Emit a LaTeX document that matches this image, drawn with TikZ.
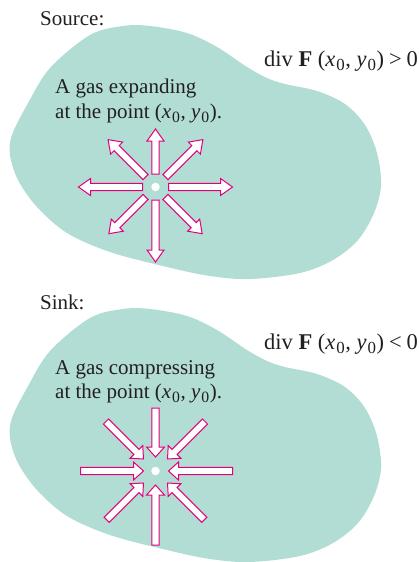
\documentclass[tikz,border=0pt]{standalone}
\usepackage{fontspec}
\setmainfont{Liberation Serif}
\definecolor{blobc}{RGB}{177,221,212}
\definecolor{pinkc}{RGB}{228,0,124}
\definecolor{txtc}{RGB}{35,31,32}
\newcommand\zsub{\kern1pt\raisebox{-0.22em}{\fontsize{0.75em}{0.75em}\selectfont 0}\kern0.5pt}
\newcommand\outarr[3]{%
  \begin{scope}[rotate=#1]
    \filldraw[arr] (#2,-3.6) -- ({#3-12},-3.6) -- ({#3-12},-8.5) -- (#3,0) -- ({#3-12},8.5) -- ({#3-12},3.6) -- (#2,3.6) -- cycle;
  \end{scope}}
\newcommand\inarr[3]{%
  \begin{scope}[rotate=#1]
    \filldraw[arr] (#3,-3.6) -- ({#2+10},-3.6) -- ({#2+10},-9) -- (#2,0) -- ({#2+10},9) -- ({#2+10},3.6) -- (#3,3.6) -- cycle;
  \end{scope}}
\tikzset{
  arr/.style={draw=pinkc, fill=white, line width=1.0pt, line join=miter},
  blobfill/.style={fill=blobc, draw=none},
  lbl/.style={anchor=base west, inner sep=0pt, text=txtc, font=\fontsize{21}{25}\selectfont},
  divlbl/.style={lbl, font=\fontsize{22.5}{27}\selectfont},
  dotc/.style={circle, fill=white, draw=none, minimum size=8.5pt, inner sep=0pt}
}
\begin{document}
\begin{tikzpicture}[x=1pt, y=-1pt]
\useasboundingbox (0,0) rectangle (419,562);
\fill[white] (0,0) rectangle (419,562);
% blobs
\foreach \dy in {0,283}{
\begin{scope}[yshift=-\dy pt]
\fill[blobfill] plot[smooth cycle, tension=0.55] coordinates {
 (12,135) (27,105) (50,68) (90,35) (123,26) (150,26) (187,33) (217,47)
 (247,67) (267,78) (285,84) (317,91) (345,104) (365,125) (377,153) (381,185)
 (374,213) (358,240) (333,260) (300,273) (250,279) (210,276) (167,267)
 (110,252) (67,233) (37,207) (18,180) (10,155)};
\end{scope}}
% source labels
\node[lbl] (src) at (40,25) {Source:};
\node[divlbl] (divp) at (264,66) {div \textbf{F} (\textit{x}\zsub, \textit{y}\zsub)\kern5pt>\kern5pt0};
\node[lbl] (exp1) at (55,93) {A gas expanding};
\node[lbl] (exp2) at (55,118) {at the point (\textit{x}\zsub, \textit{y}\zsub).};
% source arrows
\begin{scope}[shift={(155.5,187)}]
  \outarr{90}{13}{58}
  \outarr{0}{13}{77}
  \outarr{180}{13}{77}
  \outarr{-90}{13}{75}
  \outarr{45}{14}{67}
  \outarr{135}{14}{67}
  \outarr{-45}{14}{66}
  \outarr{-135}{14}{66}
\end{scope}
\node[dotc] (srcdot) at (155.5,187) {};
% sink labels
\node[lbl] (snk) at (40,309) {Sink:};
\node[divlbl] (divn) at (264,349) {div \textbf{F} (\textit{x}\zsub, \textit{y}\zsub)\kern5pt<\kern5pt0};
\node[lbl] (cmp1) at (55,374) {A gas compressing};
\node[lbl] (cmp2) at (55,398) {at the point (\textit{x}\zsub, \textit{y}\zsub).};
% sink arrows
\begin{scope}[shift={(155.5,471)}]
  \inarr{90}{14}{63}
  \inarr{-90}{14}{74}
  \inarr{180}{12}{75}
  \inarr{0}{13}{77}
  \inarr{45}{17}{70}
  \inarr{135}{17}{70}
  \inarr{-45}{17}{69}
  \inarr{-135}{17}{69}
\end{scope}
\node[dotc] (snkdot) at (155.5,471) {};
\end{tikzpicture}
\end{document}
